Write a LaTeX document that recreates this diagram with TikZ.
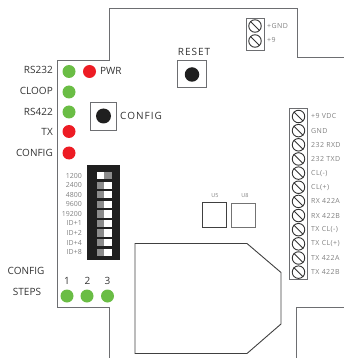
\documentclass[tikz,border=0pt]{standalone}
\usepackage{fontspec}
\setmainfont{Open Sans}
\definecolor{ledg}{HTML}{6ABD45}
\definecolor{ledr}{HTML}{ED1C24}
\definecolor{wall}{HTML}{6D6E71}
\definecolor{txt}{HTML}{333333}
\definecolor{faint}{HTML}{808080}
\tikzset{
 led/.style={circle,minimum size=13pt,inner sep=0pt,fill=#1},
 wallline/.style={draw=wall,line width=0.9pt},
 lab/.style={font=\fontsize{10}{10}\selectfont,text=txt,inner sep=0pt},
 wide/.style={font=\fontsize{10}{10}\selectfont\addfontfeatures{LetterSpace=10},text=txt,inner sep=0pt},
 tiny/.style={font=\fontsize{7}{7}\selectfont\addfontfeatures{LetterSpace=6},text=faint,inner sep=0pt,anchor=west},
 dip/.style={font=\fontsize{7}{7}\selectfont,text=faint,inner sep=0pt,anchor=east},
 chiplab/.style={font=\fontsize{5.5}{6}\selectfont,text=faint,inner sep=0pt},
 screw/.style={circle,draw=black!80,line width=0.9pt,minimum size=12.5pt,inner sep=0pt},
 btn/.style={circle,fill=black!88,inner sep=0pt,minimum size=#1},
}
\newcommand{\screwat}[2]{\node[screw] (#1) at #2 {}; \draw[black!80,line width=0.9pt] (#1.north west) -- (#1.south east);}
\begin{document}
\begin{tikzpicture}[x=1pt,y=-1pt]
\useasboundingbox (0,0) rectangle (344,358);
% board outline
\draw[wallline] (109,358) -- (109,307) -- (57,307) -- (57,60.5) -- (109,60.5) -- (109,8.5) -- (297,8.5) -- (297,57) -- (344,57);
\draw[wallline] (296,358) -- (296,307.5) -- (344,307.5);
% left labels
\node[lab,anchor=east] at (53,70) {RS232};
\node[lab,anchor=east] at (53,90.5) {CLOOP};
\node[lab,anchor=east] at (53,111.5) {RS422};
\node[lab,anchor=east] at (53,132) {TX};
\node[lab,anchor=east] at (53,153) {CONFIG};
\node[led=ledg] (l1) at (69,71.5) {};
\node[led=ledg] (l2) at (69,92) {};
\node[led=ledg] (l3) at (69,112) {};
\node[led=ledr] (l4) at (69,131.5) {};
\node[led=ledr] (l5) at (69,153) {};
\node[led=ledr] (pwr) at (89.5,71.5) {};
\node[lab,anchor=west] at (100,70.5) {PWR};
% config button
\draw[wallline] (90,102) rectangle (116.5,130.5);
\node[btn=15pt] (cfgb) at (103.5,116) {};
\node[wide,anchor=west] at (120,116) {CONFIG};
% reset
\node[wide] at (194,52) {RESET};
\draw[wallline] (177.5,60.5) rectangle (206,87);
\node[btn=14.5pt] (rstb) at (192,74.5) {};
% DIP switch
\fill[black!88] (87,165) rectangle (120,260);
\foreach \i/\t in {0/1200,1/2400,2/4800,3/9600,4/19200,5/ID+1,6/ID+2,7/ID+4,8/ID+8}{
  \pgfmathsetmacro{\yy}{175.7+9.55*\i}
  \node[dip] at (82,\yy) {\t};
  \fill[white] (97,\yy-3.6) rectangle (112,\yy+3.6);
  \ifnum\i=0
    \fill[black!45] (104,\yy-3.6) rectangle (112,\yy+3.6);
  \else
    \fill[black!45] (97,\yy-3.6) rectangle (104,\yy+3.6);
  \fi
}
% steps
\node[lab] at (26,271) {CONFIG};
\node[lab] at (27,292) {STEPS};
\node[lab] at (67,281) {1};
\node[lab] at (87.5,281) {2};
\node[lab] at (107.5,281) {3};
\node[led=ledg] (s1) at (67,296) {};
\node[led=ledg] (s2) at (87,296) {};
\node[led=ledg] (s3) at (107.5,296) {};
% power connector
\draw[wallline] (246,18) rectangle (264,50.5);
\screwat{p1}{(255,26)}
\screwat{p2}{(255,41)}
\node[tiny] at (267,26.5) {+GND};
\node[tiny] at (267,40) {+9};
% terminal block
\draw[wallline] (289.5,108) rectangle (307.5,279);
\foreach \i/\t in {0/+9 VDC,1/GND,2/232 RXD,3/232 TXD,4/CL(-),5/CL(+),6/RX 422A,7/RX 422B,8/TX CL(-),9/TX CL(+),10/TX 422A,11/TX 422B}{
  \pgfmathsetmacro{\yy}{116.5+14.15*\i}
  \node[tiny] at (311,\yy) {\t};
}
\foreach \i in {0,...,11}{
  \pgfmathsetmacro{\yy}{116.5+14.15*\i}
  \screwat{t\i}{(298.5,\yy)}
}
% chips
\draw[wallline,draw=black!75] (202,202.5) rectangle (226,227);
\draw[wallline,draw=black!55] (231.5,203) rectangle (255.5,227);
\node[chiplab] at (215,196) {U5};
\node[chiplab] at (245,196) {U8};
% module
\draw[wallline,draw=black!75] (135,243.5) -- (247,243.5) -- (281,272.5) -- (281,324) -- (247,353.5) -- (135,353.5) -- cycle;
\end{tikzpicture}
\end{document}
